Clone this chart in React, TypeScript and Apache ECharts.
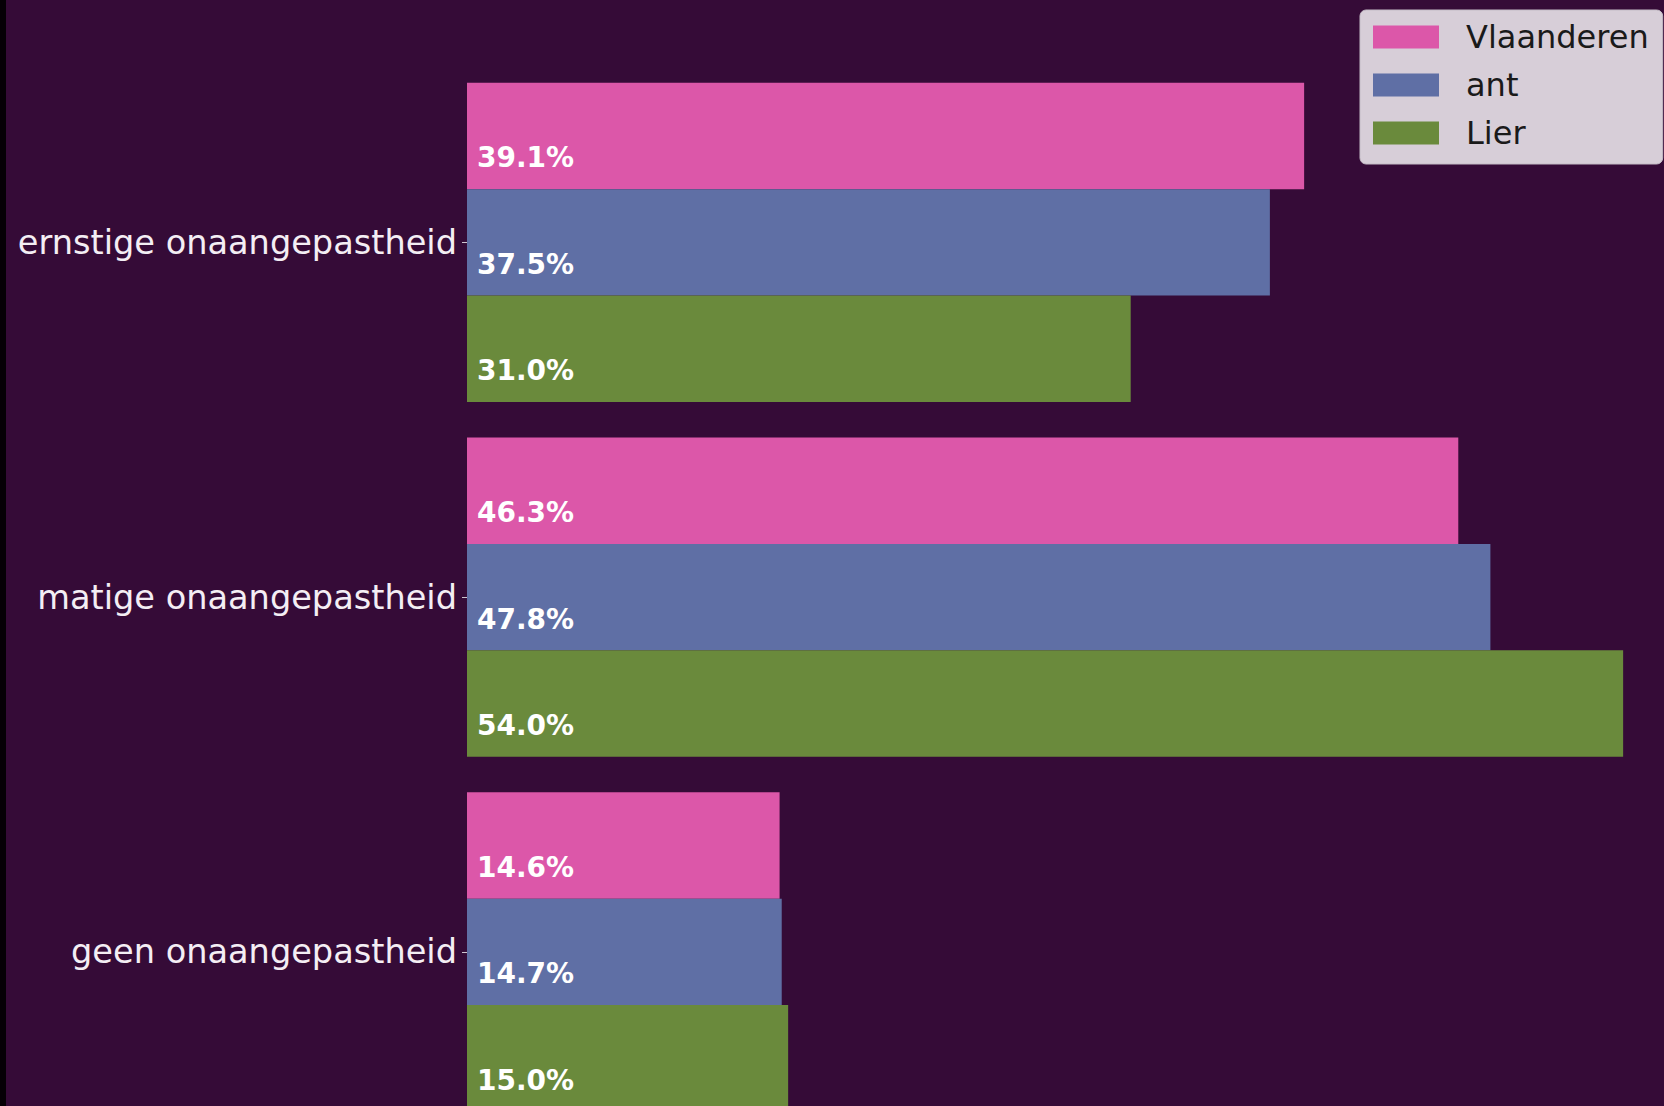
import React, { useEffect, useRef } from "react";
import * as echarts from "echarts";

const categories = ["ernstige onaangepastheid", "matige onaangepastheid", "geen onaangepastheid"];
const seriesNames = ["Vlaanderen", "ant", "Lier"];
const vlaanderen = [39.1, 46.3, 14.6];
const ant = [37.5, 47.8, 14.7];
const lier = [31.0, 54.0, 15.0];
const colors = ["#dc57a9", "#5f6fa5", "#6a8a3c"];

export default function App() {
  const ref = useRef<HTMLDivElement>(null);
  useEffect(() => {
    document.body.style.margin = "0";
    document.body.style.overflow = "hidden";
    document.body.style.background = "#350b37";
    const chart = echarts.init(ref.current!, undefined, { renderer: "svg" });
    const values = [vlaanderen, ant, lier];
    const label = {
      show: true,
      position: "insideLeft",
      distance: 10,
      offset: [0, 22],
      color: "#ffffff",
      fontWeight: "bold",
      fontSize: 28,
      fontFamily: "DejaVu Sans",
      formatter: (p: any) => p.value.toFixed(1) + "%",
    };
    chart.setOption({
      animation: false,
      backgroundColor: "#350b37",
      graphic: [
        { type: "rect", left: 0, top: 0, shape: { x: 0, y: 0, width: 6, height: 1140 }, style: { fill: "#050005" } },
      ],
      legend: {
        left: 1360,
        top: 10,
        orient: "vertical",
        data: seriesNames,
        icon: "rect",
        itemWidth: 66,
        itemHeight: 23,
        itemGap: 12,
        padding: [9, 14, 13, 13],
        backgroundColor: "#d7ced8",
        borderColor: "#c4bcc6",
        borderWidth: 1,
        borderRadius: 6,
        textStyle: {
          color: "#1a1a1a",
          fontSize: 32,
          lineHeight: 36,
          fontFamily: "DejaVu Sans",
          padding: [0, 0, 0, 22],
        },
      },
      grid: { left: 467, top: 65, width: 55 * 21.41, height: 1064.25, containLabel: false },
      xAxis: {
        type: "value",
        min: 0,
        max: 55,
        show: false,
      },
      yAxis: {
        type: "category",
        inverse: true,
        data: categories,
        axisLine: { show: false },
        axisTick: { show: true, alignWithLabel: true, length: 5, lineStyle: { color: "#cfc6cf", width: 1 } },
        axisLabel: { margin: 10, fontSize: 33.6, color: "#f4eef4", fontFamily: "DejaVu Sans" },
        splitLine: { show: false },
      },
      series: seriesNames.map((name, i) => ({
        name,
        type: "bar",
        data: values[i],
        barGap: "0%",
        barCategoryGap: "10%",
        itemStyle: { color: colors[i] },
        label,
      })),
    });
    return () => chart.dispose();
  }, []);
  return <div ref={ref} style={{ position: "fixed", left: 0, top: 0, width: 1664, height: 1140 }} />;
}
